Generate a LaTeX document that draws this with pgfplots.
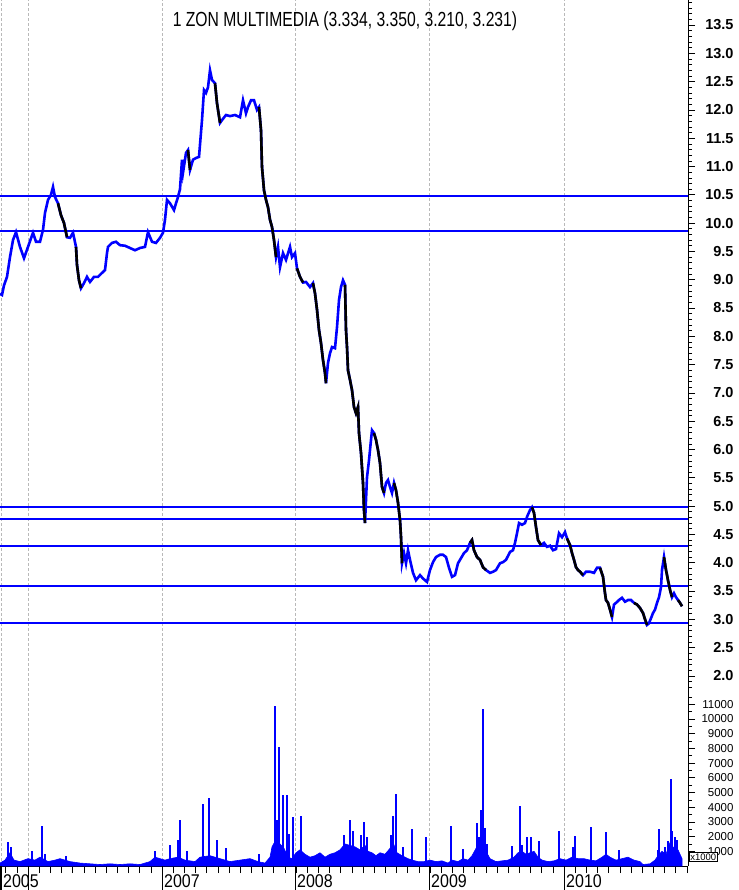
\documentclass[border=0pt]{standalone}
\usepackage{fontspec}
\setmainfont{Liberation Sans}
\usepackage{pgfplots}
\pgfplotsset{compat=1.18}
\usepackage{pgfplotstable}
\definecolor{pblue}{RGB}{0,0,255}
\definecolor{gridgray}{RGB}{185,185,185}

% x = horizontal position (days scale, 134 units per year, 2006.0 at 28)
\pgfplotstableread{
x p
0 8.75
2 8.73
4 8.9
7 9.05
10 9.4
13 9.7
16 9.84
20 9.58
24 9.38
28 9.58
33 9.83
36 9.67
40 9.67
43 9.88
45 10.18
48 10.41
51 10.5
53 10.64
55 10.46
58 10.35
61 10.14
64 10.0
67 9.75
70 9.74
73 9.83
76 9.58
77 9.26
79 8.99
81 8.85
84 8.94
87 9.05
90 8.96
94 9.05
98 9.05
102 9.12
105 9.17
107 9.47
108 9.58
112 9.65
116 9.67
120 9.61
125 9.6
130 9.56
135 9.52
140 9.56
145 9.58
148 9.84
152 9.67
156 9.65
160 9.74
163 9.83
165 10.06
167 10.41
170 10.35
174 10.23
176 10.35
178 10.46
180 10.6
182 11.12
183 10.89
186 11.24
188 11.29
190 10.94
193 11.12
196 11.15
199 11.17
202 11.82
204 12.35
206 12.3
208 12.4
210 12.7
212 12.53
215 12.47
217 12.12
220 11.77
222 11.82
226 11.91
230 11.89
235 11.91
240 11.87
243 12.17
246 11.94
248 12.05
251 12.17
254 12.17
257 12.0
259 12.05
261 11.64
262 10.99
264 10.58
266 10.41
268 10.28
270 10.06
272 9.93
274 9.70
276 9.40
278 9.58
280 9.22
283 9.47
286 9.35
290 9.58
292 9.40
295 9.47
297 9.2
300 9.05
303 8.95
306 8.96
310 8.87
313 8.94
315 8.76
317 8.47
319 8.11
321 7.88
323 7.58
325 7.35
326 7.17
328 7.53
330 7.70
332 7.81
335 7.79
337 8.16
339 8.64
341 8.87
343 8.99
345 8.91
346 8.11
347 7.81
348 7.40
350 7.23
352 7.05
354 6.75
356 6.64
358 6.75
359 6.29
361 5.94
363 5.41
364 4.93
365 4.70
367 5.51
369 5.81
371 6.17
372 6.34
374 6.29
376 6.17
378 5.99
380 5.76
382 5.34
384 5.23
386 5.41
388 5.46
390 5.34
392 5.23
394 5.41
396 5.28
398 5.06
400 4.75
401 4.45
402 3.99
404 4.17
406 3.99
408 4.22
410 4.05
413 3.82
416 3.69
420 3.78
423 3.72
427 3.66
430 3.87
433 4.01
436 4.10
440 4.14
443 4.14
446 4.10
449 3.91
452 3.75
455 3.78
458 3.99
461 4.08
464 4.17
467 4.22
470 4.35
472 4.40
474 4.22
477 4.10
480 4.05
483 3.92
486 3.87
490 3.82
493 3.84
496 3.87
500 3.99
503 4.01
506 4.05
510 4.19
513 4.22
515 4.35
517 4.52
519 4.70
522 4.67
525 4.70
527 4.81
530 4.93
532 4.98
534 4.88
536 4.63
538 4.40
541 4.31
544 4.35
547 4.28
550 4.30
553 4.22
556 4.24
559 4.52
562 4.45
565 4.54
567 4.43
570 4.31
572 4.17
574 4.05
576 3.92
578 3.87
580 3.84
583 3.78
586 3.84
590 3.84
594 3.82
597 3.91
600 3.91
603 3.75
605 3.46
606 3.34
608 3.29
610 3.17
612 3.04
614 3.26
616 3.29
619 3.34
622 3.38
625 3.31
628 3.34
631 3.34
634 3.29
637 3.26
640 3.20
643 3.11
645 3.00
647 2.90
649 2.93
651 3.02
653 3.11
655 3.17
657 3.29
659 3.39
661 3.57
662 3.87
664 4.10
666 3.87
668 3.69
670 3.52
672 3.39
674 3.46
676 3.39
678 3.34
680 3.29
682 3.23
}\price

% volume in thousands: dense background level
\pgfplotstableread{
x v
0 0.2
5 0.4
10 0.9
14 0.4
20 0.3
28 0.5
35 0.4
40 0.6
48 0.3
55 0.4
60 0.5
70 0.3
80 0.2
90 0.15
100 0.1
110 0.15
120 0.1
130 0.15
140 0.1
150 0.3
155 0.6
160 0.5
165 0.4
170 0.5
178 0.6
185 0.4
195 0.3
200 0.6
210 0.7
220 0.5
230 0.3
240 0.4
250 0.5
258 0.3
265 0.2
270 0.6
272 1.3
276 1.8
280 1.5
284 1.2
288 0.6
292 0.5
296 0.9
300 1.1
305 0.8
310 0.6
315 0.7
320 0.9
325 0.6
330 0.8
335 0.9
340 1.1
345 1.5
350 1.4
355 1.3
360 1.1
365 1.4
368 1.0
372 0.9
376 0.7
380 0.9
385 0.8
390 1.2
393 1.6
397 0.9
402 0.7
408 0.5
412 0.4
418 0.3
424 0.3
430 0.4
436 0.3
442 0.35
448 0.2
452 0.4
458 0.3
463 0.5
468 0.4
472 0.7
476 1.2
479 1.6
482 2.0
486 1.0
490 0.5
496 0.3
502 0.35
508 0.4
514 0.6
518 0.9
522 1.0
526 0.8
530 0.9
534 1.0
538 0.6
542 0.4
548 0.3
554 0.35
560 0.5
566 0.4
572 0.6
578 0.5
584 0.5
590 0.4
596 0.35
602 0.6
606 0.8
610 0.6
616 0.4
622 0.5
628 0.6
634 0.4
640 0.3
643 0.1
650 0.15
655 0.4
658 0.7
662 1.0
666 0.8
670 1.6
674 1.2
678 1.1
682 0.5
}\volbase

% volume spikes (thousands)
\pgfplotstableread{
x v
8 1.6
11 1.3
32 1.0
42 2.7
45 0.8
66 0.7
155 1.0
170 1.4
178 1.8
180 3.1
187 1.0
203 4.2
209 4.6
217 1.8
226 1.2
259 0.8
275 10.9
277 3.1
279 8.1
283 4.8
287 4.8
289 2.2
293 3.3
301 3.4
344 2.1
350 3.1
353 2.4
361 2.1
364 3.0
367 2.0
391 2.1
393 3.4
396 4.9
403 1.3
412 2.5
426 2.0
451 2.7
463 1.15
477 2.9
479 2.0
481 3.8
483 10.7
485 2.6
487 1.5
512 1.35
520 4.1
522 1.4
527 2.0
531 2.0
539 1.7
559 2.4
573 1.3
575 2.05
591 2.65
606 2.3
619 1.1
658 1.1
659 2.5
665 1.3
668 1.7
671 5.9
672 2.4
675 2.0
677 1.8
}\volspike

\begin{document}
\begin{tikzpicture}
\useasboundingbox (0,-24pt) rectangle (738pt,866pt);
% volume panel and time axis
\begin{axis}[
  at={(0,0)}, anchor=south west,
  scale only axis, width=688pt, height=866pt,
  xmin=0, xmax=688, ymin=0, ymax=58.9,
  axis x line*=bottom, axis y line*=right,
  axis line style={-, black, line width=0.8pt},
  tick style={black, line width=0.6pt},
  tick align=outside,
  major tick length=7pt, minor tick length=4pt,
  xtick={5.667,16.833,...,688}, xticklabels={},
  extra x ticks={1,28,162,295,429,564}, extra x tick labels={},
  extra x tick style={grid=major, major tick length=0pt},
  major grid style={dash pattern=on 3pt off 2pt, gridgray, line width=0.5pt},
  ytick={1,2,...,11},
  yticklabels={1000,2000,3000,4000,5000,6000,7000,8000,9000,10000,11000},
  minor ytick={0.5,1.5,...,11.5},
  yticklabel style={anchor=east, xshift=42pt, font=\fontsize{11.5}{12}\selectfont},
  clip=false,
]
\addplot[draw=pblue, fill=pblue, line width=0.6pt] table[x=x,y=v] {\volbase} \closedcycle;
\addplot[ycomb, pblue, line width=1.2pt] table[x=x,y=v] {\volspike};
\end{axis}
% price panel
\begin{axis}[
  at={(0,0)}, anchor=south west,
  scale only axis, width=688pt, height=866pt,
  xmin=0, xmax=688, ymin=-1.359, ymax=13.942,
  axis x line=none, axis y line*=right,
  axis line style={-, black, line width=0.8pt},
  tick style={black, line width=0.6pt},
  tick align=outside,
  major tick length=7pt, minor tick length=4pt,
  ytick={2,2.5,...,13.5},
  yticklabels={2.0,2.5,3.0,3.5,4.0,4.5,5.0,5.5,6.0,6.5,7.0,7.5,8.0,8.5,9.0,9.5,10.0,10.5,11.0,11.5,12.0,12.5,13.0,13.5},
  minor ytick={1.8,1.9,...,13.9},
  yticklabel style={anchor=east, xshift=42pt, font=\bfseries\fontsize{14.5}{15}\selectfont},
]
% support / resistance levels
\addplot[pblue, line width=2pt] coordinates {(0,10.48) (688,10.48)};
\addplot[pblue, line width=2pt] coordinates {(0,9.86) (688,9.86)};
\addplot[pblue, line width=2pt] coordinates {(0,4.98) (688,4.98)};
\addplot[pblue, line width=2pt] coordinates {(0,4.77) (688,4.77)};
\addplot[pblue, line width=2pt] coordinates {(0,4.30) (688,4.30)};
\addplot[pblue, line width=2pt] coordinates {(0,3.59) (688,3.59)};
\addplot[pblue, line width=2pt] coordinates {(0,2.93) (688,2.93)};
% price line, blue with black falling stretches
\addplot[pblue, line width=2.6pt] table[x=x,y=p] {\price};
\addplot[black, line width=2.6pt, restrict x to domain=58:67] table[x=x,y=p] {\price};
\addplot[black, line width=2.6pt, restrict x to domain=76:81] table[x=x,y=p] {\price};
\addplot[black, line width=2.6pt, restrict x to domain=188:190] table[x=x,y=p] {\price};
\addplot[black, line width=2.6pt, restrict x to domain=215:220] table[x=x,y=p] {\price};
\addplot[black, line width=2.6pt, restrict x to domain=259:276] table[x=x,y=p] {\price};
\addplot[black, line width=2.6pt, restrict x to domain=296:303] table[x=x,y=p] {\price};
\addplot[black, line width=2.6pt, restrict x to domain=313:326] table[x=x,y=p] {\price};
\addplot[black, line width=2.6pt, restrict x to domain=345:365] table[x=x,y=p] {\price};
\addplot[black, line width=2.6pt, restrict x to domain=374:384] table[x=x,y=p] {\price};
\addplot[black, line width=2.6pt, restrict x to domain=394:402] table[x=x,y=p] {\price};
\addplot[black, line width=2.6pt, restrict x to domain=470:486] table[x=x,y=p] {\price};
\addplot[black, line width=2.6pt, restrict x to domain=532:541] table[x=x,y=p] {\price};
\addplot[black, line width=2.6pt, restrict x to domain=567:583] table[x=x,y=p] {\price};
\addplot[black, line width=2.6pt, restrict x to domain=600:612] table[x=x,y=p] {\price};
\addplot[black, line width=2.6pt, restrict x to domain=634:647] table[x=x,y=p] {\price};
\addplot[black, line width=2.6pt, restrict x to domain=664:672] table[x=x,y=p] {\price};
\addplot[black, line width=2.6pt, restrict x to domain=678:682] table[x=x,y=p] {\price};
\end{axis}
% year separators below the time axis
\draw[line width=1.6pt] (1.2pt,0) -- (1.2pt,-24pt);
\foreach \xx in {28,162,295,429,564} \draw[line width=0.8pt] (\xx pt,0) -- (\xx pt,-24pt);
\foreach \xx/\yy in {3/2005,164/2007,297/2008,431/2009,566/2010}
  \node[anchor=base west, inner sep=0pt, yscale=1.15, font=\fontsize{16}{16}\selectfont] at (\xx pt,-21pt) {\yy};
\node[anchor=base, inner sep=0pt, yscale=1.3, font=\fontsize{15.7}{16}\selectfont] at (345pt,839pt) {1 ZON MULTIMEDIA (3.334, 3.350, 3.210, 3.231)};
\node[draw, line width=0.5pt, fill=white, inner sep=1pt, anchor=west, font=\fontsize{9.5}{10}\selectfont] at (689pt,9pt) {x1000};
\end{tikzpicture}
\end{document}
